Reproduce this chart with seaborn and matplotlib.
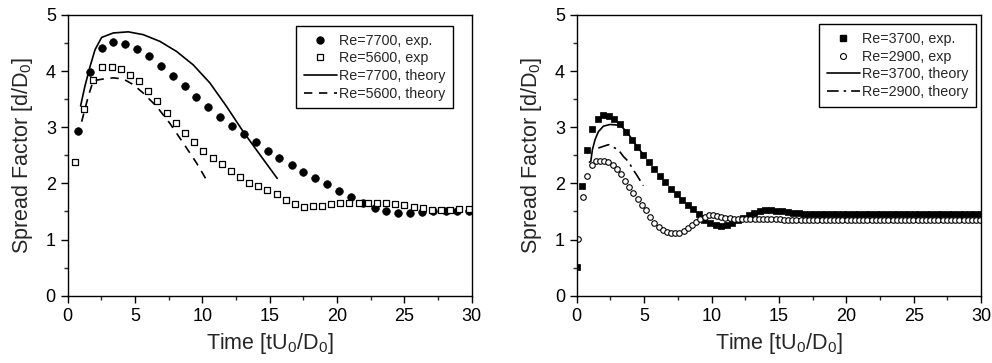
import matplotlib
matplotlib.use("Agg")
import matplotlib.pyplot as plt
from matplotlib.lines import Line2D
from matplotlib.ticker import MultipleLocator
import pandas as pd
import seaborn as sns

# ---- left panel data (Re=7700 / Re=5600) ----
t_7700_exp = [0.79, 1.66, 2.52, 3.39, 4.28, 5.17, 6.04, 6.93, 7.82, 8.68, 9.55, 10.44,
              11.33, 12.22, 13.07, 13.96, 14.85, 15.71, 16.63, 17.49, 18.38, 19.25, 20.12,
              21.01, 21.95, 22.79, 23.63, 24.52, 25.41, 26.28, 27.14, 28.06, 28.92, 29.81]
sf_7700_exp = [2.94, 3.98, 4.42, 4.52, 4.48, 4.40, 4.27, 4.09, 3.92, 3.73, 3.54, 3.36,
               3.19, 3.03, 2.88, 2.73, 2.58, 2.45, 2.33, 2.21, 2.09, 1.99, 1.87,
               1.76, 1.66, 1.57, 1.50, 1.48, 1.47, 1.49, 1.50, 1.50, 1.51, 1.51]

t_5600_exp = [0.54, 1.21, 1.90, 2.57, 3.27, 3.93, 4.63, 5.29, 5.99, 6.65, 7.35, 8.02,
              8.71, 9.40, 10.07, 10.76, 11.43, 12.12, 12.79, 13.46, 14.15, 14.82, 15.51,
              16.18, 16.85, 17.54, 18.21, 18.88, 19.57, 20.24, 20.91, 21.60, 22.27, 22.96,
              23.63, 24.32, 25.00, 25.69, 26.38, 27.04, 27.71, 28.40, 29.07, 29.77]
sf_5600_exp = [2.38, 3.33, 3.84, 4.08, 4.08, 4.04, 3.94, 3.82, 3.65, 3.47, 3.26, 3.08,
               2.89, 2.73, 2.58, 2.45, 2.34, 2.22, 2.12, 2.01, 1.95, 1.88, 1.81,
               1.70, 1.63, 1.58, 1.59, 1.60, 1.63, 1.65, 1.65, 1.65, 1.65, 1.65,
               1.65, 1.63, 1.61, 1.58, 1.56, 1.53, 1.53, 1.53, 1.54, 1.54]

t_7700_th = [0.96, 1.28, 1.66, 2.03, 2.52, 3.39, 4.50, 5.61, 6.85, 8.09, 9.33, 10.56,
             11.80, 13.04, 14.28, 15.56]
sf_7700_th = [3.38, 3.73, 4.08, 4.38, 4.60, 4.68, 4.70, 4.65, 4.53, 4.35, 4.11, 3.79,
              3.37, 2.92, 2.51, 2.09]

t_5600_th = [1.04, 1.53, 1.90, 2.64, 3.39, 4.13, 4.87, 5.61, 6.61, 7.59, 8.58, 9.58, 10.24]
sf_5600_th = [3.10, 3.55, 3.83, 3.86, 3.88, 3.86, 3.76, 3.61, 3.37, 3.07, 2.72, 2.36, 2.09]

# ---- right panel data (Re=3700 / Re=2900) ----
t_3700_exp = [0.05, 0.37, 0.79, 1.16, 1.58, 1.98, 2.40, 2.79, 3.21, 3.66, 4.08, 4.50,
              4.92, 5.34, 5.76, 6.18, 6.57, 7.00, 7.42, 7.83, 8.23, 8.65, 9.07, 9.47,
              9.89, 10.31, 10.70, 11.13, 11.54, 11.94, 12.36, 12.78, 13.18, 13.59, 14.00,
              14.41, 14.82, 15.23, 15.64, 16.05, 16.46, 16.87, 17.28, 17.69, 18.10, 18.51,
              18.92, 19.33, 19.74, 20.15, 20.56, 20.97, 21.38, 21.79, 22.20, 22.61, 23.02,
              23.43, 23.84, 24.25, 24.66, 25.07, 25.48, 25.89, 26.30, 26.71, 27.12, 27.53,
              27.94, 28.35, 28.76, 29.17, 29.58, 29.99]
sf_3700_exp = [0.51, 1.96, 2.60, 2.97, 3.14, 3.21, 3.20, 3.15, 3.06, 2.91, 2.78, 2.64,
               2.51, 2.38, 2.25, 2.13, 2.02, 1.90, 1.81, 1.71, 1.62, 1.54, 1.45, 1.35,
               1.29, 1.26, 1.24, 1.26, 1.29, 1.34, 1.39, 1.44, 1.48, 1.51, 1.52,
               1.52, 1.51, 1.50, 1.49, 1.48, 1.47, 1.46, 1.46, 1.45, 1.45, 1.45,
               1.46, 1.46, 1.46, 1.46, 1.45, 1.45, 1.45, 1.45, 1.45, 1.46, 1.46,
               1.46, 1.45, 1.45, 1.45, 1.45, 1.46, 1.46, 1.46, 1.45, 1.45, 1.45,
               1.45, 1.45, 1.45, 1.45, 1.45, 1.45]

t_2900_exp = [0.12, 0.45, 0.78, 1.10, 1.42, 1.73, 2.04, 2.35, 2.66, 2.97, 3.28, 3.59,
              3.90, 4.21, 4.52, 4.83, 5.14, 5.45, 5.76, 6.07, 6.38, 6.69, 7.00, 7.31,
              7.62, 7.93, 8.24, 8.55, 8.86, 9.17, 9.48, 9.79, 10.10, 10.41, 10.72, 11.03,
              11.34, 11.65, 11.96, 12.27, 12.58, 12.89, 13.20, 13.51, 13.82, 14.13, 14.44,
              14.75, 15.06, 15.37, 15.68, 15.99, 16.30, 16.61, 16.92, 17.23, 17.54, 17.85,
              18.16, 18.47, 18.78, 19.09, 19.40, 19.71, 20.02, 20.33, 20.64, 20.95, 21.26,
              21.57, 21.88, 22.19, 22.50, 22.81, 23.12, 23.43, 23.74, 24.05, 24.36, 24.67,
              24.98, 25.29, 25.60, 25.91, 26.22, 26.53, 26.84, 27.15, 27.46, 27.77, 28.08,
              28.39, 28.70, 29.01, 29.32, 29.63, 29.94]
sf_2900_exp = [1.01, 1.75, 2.13, 2.32, 2.40, 2.40, 2.40, 2.38, 2.32, 2.25, 2.16, 2.05,
               1.94, 1.83, 1.72, 1.62, 1.52, 1.40, 1.30, 1.23, 1.17, 1.13, 1.11, 1.11,
               1.12, 1.16, 1.20, 1.26, 1.32, 1.37, 1.40, 1.43, 1.43, 1.42, 1.41, 1.39,
               1.38, 1.37, 1.36, 1.36, 1.36, 1.36, 1.36, 1.36, 1.36, 1.36, 1.36,
               1.36, 1.36, 1.35, 1.35, 1.35, 1.35, 1.35, 1.35, 1.35, 1.35, 1.35,
               1.35, 1.35, 1.35, 1.35, 1.35, 1.35, 1.35, 1.35, 1.35, 1.35, 1.35,
               1.35, 1.35, 1.35, 1.35, 1.35, 1.35, 1.35, 1.35, 1.35, 1.35, 1.35,
               1.35, 1.35, 1.35, 1.35, 1.35, 1.35, 1.35, 1.35, 1.35, 1.35, 1.35,
               1.35, 1.35, 1.35, 1.35, 1.35, 1.35]

t_3700_th = [0.94, 1.04, 1.16, 1.36, 1.60, 1.98, 2.47, 2.97, 3.34, 3.70, 4.10, 4.50, 4.95]
sf_3700_th = [2.38, 2.39, 2.60, 2.78, 2.92, 3.02, 3.05, 3.04, 3.01, 2.92, 2.79, 2.65, 2.51]

t_2900_th = [1.60, 2.35, 2.84, 3.09, 3.46, 3.83, 4.20, 4.45, 4.94]
sf_2900_th = [2.63, 2.69, 2.63, 2.60, 2.48, 2.39, 2.24, 2.15, 1.96]

sns.set_style("ticks")
plt.rcParams["font.family"] = ["Liberation Sans", "DejaVu Sans"]
plt.rcParams["mathtext.default"] = "regular"
plt.rcParams["axes.linewidth"] = 1.0

fig = plt.figure(figsize=(9.92, 3.63), dpi=100)
ax1 = fig.add_axes([0.0682, 0.1854, 0.4073, 0.7733])
ax2 = fig.add_axes([0.5814, 0.1854, 0.4076, 0.7733])

dash = (0, (5, 4))
dashdot = (0, (7, 3, 1.5, 3))

# left
sns.scatterplot(x=t_7700_exp, y=sf_7700_exp, ax=ax1, marker="o", s=30,
                color="black", edgecolor="black", linewidth=0.5)
sns.scatterplot(x=t_5600_exp, y=sf_5600_exp, ax=ax1, marker="s", s=20,
                facecolor="white", edgecolor="black", linewidth=0.9)
sns.lineplot(x=t_7700_th, y=sf_7700_th, ax=ax1, sort=False, estimator=None,
             color="black", linewidth=1.2)
sns.lineplot(x=t_5600_th, y=sf_5600_th, ax=ax1, sort=False, estimator=None,
             color="black", linewidth=1.2, linestyle=dash)

# right
sns.scatterplot(x=t_3700_exp, y=sf_3700_exp, ax=ax2, marker="s", s=18,
                color="black", edgecolor="black", linewidth=0.5)
sns.scatterplot(x=t_2900_exp, y=sf_2900_exp, ax=ax2, marker="o", s=16,
                facecolor="white", edgecolor="black", linewidth=0.8)
sns.lineplot(x=t_3700_th, y=sf_3700_th, ax=ax2, sort=False, estimator=None,
             color="black", linewidth=1.2)
sns.lineplot(x=t_2900_th, y=sf_2900_th, ax=ax2, sort=False, estimator=None,
             color="black", linewidth=1.2, linestyle=dashdot)

for ax in (ax1, ax2):
    ax.set_xlim(0, 30)
    ax.set_ylim(0, 5)
    ax.xaxis.set_major_locator(MultipleLocator(5))
    ax.xaxis.set_minor_locator(MultipleLocator(2.5))
    ax.yaxis.set_major_locator(MultipleLocator(1))
    ax.yaxis.set_minor_locator(MultipleLocator(0.5))
    ax.tick_params(which="major", direction="out", length=5, width=1,
                   labelsize=13, colors="black")
    ax.tick_params(which="minor", direction="out", length=3, width=1)
    for sp in ax.spines.values():
        sp.set_visible(True)
        sp.set_color("black")
    ax.set_xlabel("Time [tU$_0$/D$_0$]", fontsize=15.5, labelpad=5)
    ax.set_ylabel("Spread Factor [d/D$_0$]", fontsize=15.5, labelpad=8)

leg_kw = dict(loc="upper right", fontsize=10.3, frameon=True, fancybox=False,
              edgecolor="black", framealpha=1, handlelength=2.3, labelspacing=0.25,
              borderaxespad=0, handletextpad=0.15, borderpad=0.55)

h1 = [Line2D([], [], ls="none", marker="o", ms=5, mfc="black", mec="black"),
      Line2D([], [], ls="none", marker="s", ms=4.3, mfc="white", mec="black", mew=0.9),
      Line2D([], [], color="black", lw=1.2),
      Line2D([], [], color="black", lw=1.2, ls=dash)]
leg1 = ax1.legend(h1, ["Re=7700, exp.", "Re=5600, exp", "Re=7700, theory", "Re=5600, theory"],
                  bbox_to_anchor=(0.954, 0.961), **leg_kw)
leg1.get_frame().set_linewidth(1.0)

h2 = [Line2D([], [], ls="none", marker="s", ms=4.3, mfc="black", mec="black"),
      Line2D([], [], ls="none", marker="o", ms=4.3, mfc="white", mec="black", mew=0.8),
      Line2D([], [], color="black", lw=1.2),
      Line2D([], [], color="black", lw=1.2, ls=dashdot)]
leg2 = ax2.legend(h2, ["Re=3700, exp.", "Re=2900, exp", "Re=3700, theory", "Re=2900, theory"],
                  bbox_to_anchor=(0.988, 0.967), **leg_kw)
leg2.get_frame().set_linewidth(1.0)

fig.savefig("out.png", dpi=100)
